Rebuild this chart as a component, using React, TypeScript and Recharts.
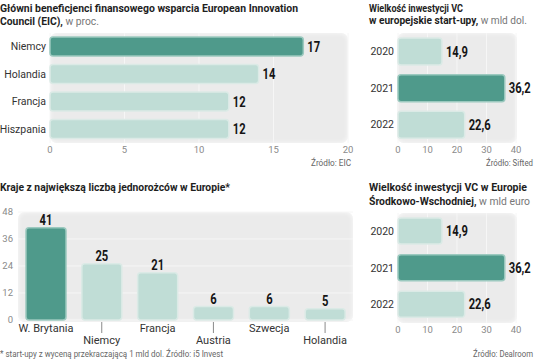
import React from 'react';
import { BarChart, Bar, XAxis, YAxis, CartesianGrid, Cell, LabelList } from 'recharts';

// Główni beneficjenci EIC, w proc.
const eicCountries = ['Niemcy', 'Holandia', 'Francja', 'Hiszpania'];
const eicShare = [17, 14, 12, 12];
const eicTicks = [0, 5, 10, 15, 20];

// Inwestycje VC, 2020-2022
const vcYears = ['2020', '2021', '2022'];
const vcEurope = [14.9, 36.2, 22.6]; // mld dol.
const vcCee = [14.9, 36.2, 22.6]; // mld euro
const vcTicks = [0, 10, 20, 30, 40];

// Jednorożce w Europie
const unicornCountries = ['W. Brytania', 'Niemcy', 'Francja', 'Austria', 'Szwecja', 'Holandia'];
const unicornCount = [41, 25, 21, 6, 6, 5];
const unicornTicks = [0, 12, 24, 36, 48];

const SANS = "Roboto, 'Noto Sans', sans-serif";
const DARK = '#4f9a8b';
const DARK_EDGE = '#9cc9bf';
const LIGHT = '#c0ddd6';
const LIGHT_EDGE = '#dbeae6';
const BG = '#ebebeb';

const toRows = (cats: string[], vals: number[]) => cats.map((name, i) => ({ name, value: vals[i] }));
const comma = (v: any) => String(v).replace('.', ',');

const tickNum = { fill: '#8a8a8a', fontSize: 9.5, fontFamily: SANS };
const tickCat = { fill: '#333', fontSize: 10.5, fontFamily: SANS };

// bold condensed value label (squeezed horizontally, the original font is narrow)
const ValueLabel = (props: any) => {
  const { x, y, width, height, value, vertical } = props;
  const tx = vertical ? x + width / 2 : x + width + 4;
  const ty = vertical ? y - 3 : y + height / 2 + 5;
  return (
    <text
      transform={`translate(${tx} ${ty}) scale(0.8 1)`}
      textAnchor={vertical ? 'middle' : 'start'}
      fill="#151515"
      fontSize={14}
      fontWeight={700}
      fontFamily={SANS}
    >
      {comma(value)}
    </text>
  );
};

const Bg = ({ left, top, width, height }: any) => (
  <div
    style={{
      position: 'absolute', left, top, width, height, background: BG, borderRadius: 7,
      boxShadow: 'inset 0 0 5px rgba(255,255,255,0.8)',
    }}
  />
);

const HBars = ({ rows, ticks, left, top, width, height, yWidth, right, barSize }: any) => {
  const max = Math.max(...rows.map((r: any) => r.value));
  return (
    <div style={{ position: 'absolute', left, top }}>
      <BarChart
        layout="vertical"
        width={width}
        height={height}
        data={rows}
        margin={{ top: 5, right, bottom: 5, left: 2 }}
      >
        <CartesianGrid horizontal={false} stroke="#f6f6f6" />
        <XAxis
          type="number"
          domain={[ticks[0], ticks[ticks.length - 1]]}
          ticks={ticks}
          interval={0}
          axisLine={false}
          tickLine={false}
          tickSize={0}
          tickMargin={3}
          height={15}
          tick={tickNum}
        />
        <YAxis
          type="category"
          dataKey="name"
          width={yWidth}
          axisLine={false}
          tickLine={false}
          tickSize={0}
          tickMargin={4}
          tick={tickCat}
        />
        <Bar dataKey="value" barSize={barSize} radius={3} strokeWidth={1.5} isAnimationActive={false}>
          {rows.map((r: any, i: number) => (
            <Cell key={i} fill={r.value === max ? DARK : LIGHT} stroke={r.value === max ? DARK_EDGE : LIGHT_EDGE} />
          ))}
          <LabelList dataKey="value" content={<ValueLabel />} />
        </Bar>
      </BarChart>
    </div>
  );
};

const StaggerTick = (props: any) => {
  const { x, y, payload, index } = props;
  const low = index % 2 === 1;
  return (
    <g>
      {low && <line x1={x} x2={x} y1={y + 2} y2={y + 13} stroke="#8a8a8a" strokeWidth={1} />}
      <text x={x} y={low ? y + 24 : y + 12} textAnchor="middle" fill="#333" fontSize={11} fontFamily={SANS}>
        {payload.value}
      </text>
    </g>
  );
};

const Unicorns = () => {
  const rows = toRows(unicornCountries, unicornCount);
  const max = Math.max(...unicornCount);
  return (
    <div style={{ position: 'absolute', left: 0, top: 205 }}>
      <BarChart width={360} height={145} data={rows} margin={{ top: 7, right: 7, bottom: 0, left: 0 }}>
        <CartesianGrid vertical={false} stroke="#f6f6f6" />
        <XAxis
          dataKey="name"
          axisLine={false}
          tickLine={false}
          tickSize={0}
          tickMargin={0}
          height={30}
          interval={0}
          tick={<StaggerTick />}
        />
        <YAxis
          type="number"
          domain={[0, 48]}
          ticks={unicornTicks}
          interval={0}
          width={18}
          axisLine={false}
          tickLine={false}
          tickSize={0}
          tickMargin={5}
          tick={tickNum}
        />
        <Bar dataKey="value" barSize={40} radius={3} strokeWidth={1.5} isAnimationActive={false}>
          {rows.map((r, i) => (
            <Cell key={i} fill={r.value === max ? DARK : LIGHT} stroke={r.value === max ? DARK_EDGE : LIGHT_EDGE} />
          ))}
          <LabelList dataKey="value" content={<ValueLabel vertical />} />
        </Bar>
      </BarChart>
    </div>
  );
};

// one line of text fitted to the width it has in the original
const Line = ({ x, y, w, bold, rest, size = 11.5, color = '#666' }: any) => (
  <text x={x} y={y} textLength={w} lengthAdjust="spacingAndGlyphs" fontFamily={SANS} fontSize={size}>
    {bold && <tspan fontWeight={700} fill="#1e1e1e">{bold}</tspan>}
    {rest && <tspan fontWeight={400} fill={color}>{rest}</tspan>}
  </text>
);

const Texts = () => (
  <svg width={536} height={360} style={{ position: 'absolute', left: 0, top: 0, pointerEvents: 'none' }}>
    <Line x={0} y={11.5} w={298} bold="Główni beneficjenci finansowego wsparcia European Innovation" />
    <Line x={0} y={25} w={99} bold="Council (EIC)," rest=" w proc." color="#777" />
    <Line x={311} y={165.5} w={40} rest="Źródło:  EIC" size={9.5} />

    <Line x={369} y={11.5} w={94} bold="Wielkość inwestycji VC" />
    <Line x={369} y={24} w={158} bold="w europejskie start-upy," rest=" w mld dol." color="#777" />
    <Line x={486} y={165.5} w={47} rest="Źródło: Sifted" size={9.5} />

    <Line x={0} y={190.5} w={230} bold="Kraje z największą liczbą jednorożców w Europie*" />
    <Line x={0} y={356.5} w={223} rest="* start-upy z wyceną przekraczającą 1 mld dol. Źródło: i5 Invest" size={9.5} />

    <Line x={369} y={191} w={158} bold="Wielkość inwestycji VC w Europie" />
    <Line x={369} y={204.5} w={161} bold="Środkowo-Wschodniej," rest=" w mld euro" color="#777" />
    <Line x={473} y={357} w={60} rest="Źródło: Dealroom" size={9.5} />
  </svg>
);

export default function App() {
  return (
    <div style={{ position: 'absolute', left: 0, top: 0, width: 536, height: 360, background: '#fff', overflow: 'hidden' }}>
      <Bg left={50} top={33} width={298} height={110} />
      <Bg left={397} top={33} width={120} height={110} />
      <Bg left={18} top={212} width={335} height={110} />
      <Bg left={397} top={213} width={120} height={110} />

      <HBars
        rows={toRows(eicCountries, eicShare)}
        ticks={eicTicks}
        left={0}
        top={28}
        width={370}
        height={135}
        yWidth={48}
        right={22}
        barSize={19}
      />
      <HBars
        rows={toRows(vcYears, vcEurope)}
        ticks={vcTicks}
        left={360}
        top={28}
        width={176}
        height={135}
        yWidth={36}
        right={20}
        barSize={27}
      />
      <Unicorns />
      <HBars
        rows={toRows(vcYears, vcCee)}
        ticks={vcTicks}
        left={360}
        top={208}
        width={176}
        height={135}
        yWidth={36}
        right={20}
        barSize={26}
      />
      <Texts />
    </div>
  );
}
